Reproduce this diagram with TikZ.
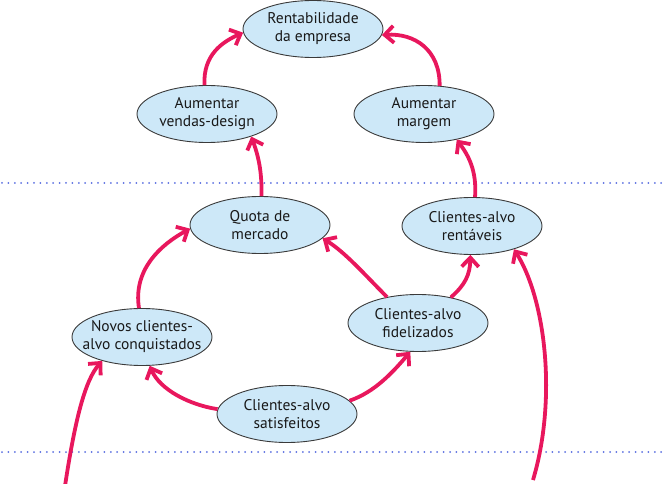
\documentclass[tikz,border=0pt]{standalone}
\usepackage{fontspec}
\setmainfont{PT Sans}
\usetikzlibrary{arrows.meta,shapes.geometric}
\definecolor{arrowpink}{HTML}{E8175D}
\definecolor{nodefill}{HTML}{CDE8F8}
\definecolor{nodeline}{HTML}{3A3A3A}
\definecolor{dotblue}{HTML}{5A6EE0}
\begin{document}
\begin{tikzpicture}[x=1pt,y=-1pt,
  goal/.style={ellipse, draw=nodeline, line width=0.9pt, fill=nodefill,
    minimum width=140pt, minimum height=57pt, inner xsep=-25pt, inner ysep=0pt,
    align=center, font=\fontsize{15.5}{18}\selectfont, text=black!90},
  link/.style={draw=arrowpink, line width=3.8pt,
    -{Straight Barb[length=9pt,width=17pt]}},
  sep/.style={draw=dotblue, line width=2pt, dash pattern=on 0pt off 6.4pt, line cap=round}]
\useasboundingbox (0,0) rectangle (665,484);

\draw[sep] (2,183) -- (665,183);
\draw[sep] (2,452) -- (665,452);

\node[goal] (rent) at (313,29) {Rentabilidade\\da empresa};
\node[goal] (vd) at (207,114) {Aumentar\\vendas-design};
\node[goal] (am) at (424,114) {Aumentar\\margem};
\node[goal] (qm) at (260,225) {Quota de\\mercado};
\node[goal] (cr) at (472,226) {Clientes-alvo\\rentáveis};
\node[goal] (nc) at (142,337) {Novos clientes-\\alvo conquistados};
\node[goal] (cf) at (418,323) {Clientes-alvo\\fidelizados};
\node[goal] (cs) at (287,414) {Clientes-alvo\\satisfeitos};

\coordinate (srcL) at (65,486);
\coordinate (srcR) at (533,480);

\draw[link] (vd.95) .. controls (203,55) and (222,42) .. (rent.183);
\draw[link] (am.61) .. controls (440,50) and (415,33) .. (rent.355);
\draw[link] (qm.87) .. controls (262,170) and (258,155) .. (vd.-27);
\draw[link] (cr.84) .. controls (477,170) and (468,155) .. (am.-38);
\draw[link] (nc.96) .. controls (133,270) and (160,245) .. (qm.183);
\draw[link] (cf.140) .. controls (365,275) and (345,252) .. (qm.-12);
\draw[link] (cf.38) .. controls (465,285) and (470,275) .. (cr.-93);
\draw[link] (cs.176) .. controls (190,405) and (160,390) .. (nc.-75);
\draw[link] (cs.12) .. controls (375,392) and (393,372) .. (cf.-105);
\draw[link] (srcL) .. controls (75,420) and (85,380) .. (nc.211);
\draw[link] (srcR) .. controls (557,400) and (546,300) .. (cr.-29);
\end{tikzpicture}
\end{document}
